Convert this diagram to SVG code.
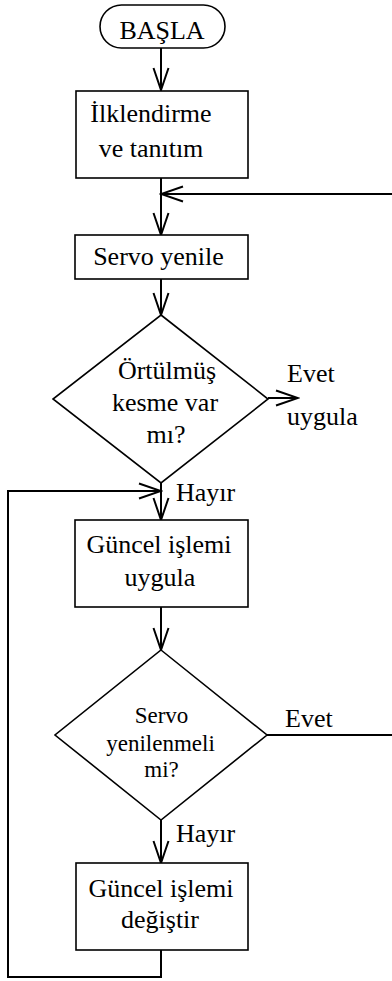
<svg xmlns="http://www.w3.org/2000/svg" width="392" height="981" viewBox="0 0 392 981">
<style>
.s{fill:#fff;stroke:#000;stroke-width:1.6}
.c{fill:none;stroke:#000;stroke-width:2}
text{font-family:"Liberation Serif","Times New Roman",serif;font-size:26px;fill:#000}
.m{text-anchor:middle}
.d2{font-size:23px}
</style>
<defs>
<marker id="a" viewBox="-24 -10 26 20" markerWidth="26" markerHeight="20" refX="0" refY="0" markerUnits="userSpaceOnUse" orient="auto">
<path d="M-22,-7.5 L0,0 L-22,7.5" fill="none" stroke="#000" stroke-width="2"/>
</marker>
</defs>
<rect width="392" height="981" fill="#fff"/>
<g id="connectors">
<path class="c" d="M161,48 V90" marker-end="url(#a)"/>
<path class="c" d="M161,178 V235" marker-end="url(#a)"/>
<path class="c" d="M395,194 H161"  marker-end="url(#a)"/>
<path class="c" d="M161,279 V315" marker-end="url(#a)"/>
<path class="c" d="M268,398 H298" marker-end="url(#a)"/>
<path class="c" d="M161,483 V520" marker-end="url(#a)"/>
<path class="c" d="M161,607 V650" marker-end="url(#a)"/>
<path class="c" d="M267,735 H395"/>
<path class="c" d="M161,820 V863" marker-end="url(#a)"/>
<path class="c" d="M161,950 V977 H8 V491 H161" marker-end="url(#a)"/>
</g>
<g id="start">
<rect class="s" x="100" y="5" width="125" height="43" rx="21.5"/>
<text class="m" x="162" y="39">BAŞLA</text>
</g>
<g id="init">
<rect class="s" x="76" y="91" width="172" height="87"/>
<text class="m" x="151" y="122">İlklendirme</text>
<text class="m" x="151" y="157">ve tanıtım</text>
</g>
<g id="servo">
<rect class="s" x="75" y="235" width="173" height="44"/>
<text class="m" x="158.5" y="265">Servo yenile</text>
</g>
<g id="dec1">
<polygon class="s" points="161,315 268,399 161,483 53,399"/>
<text class="m" x="167" y="379">Örtülmüş</text>
<text class="m" x="165" y="411">kesme var</text>
<text class="m" x="166" y="443">mı?</text>
</g>
<g id="evet1">
<text x="287" y="382">Evet</text>
<text x="287" y="425">uygula</text>
</g>
<text id="hayir1" x="176" y="501">Hayır</text>
<g id="apply">
<rect class="s" x="75" y="520" width="173" height="87"/>
<text class="m" x="159" y="553">Güncel işlemi</text>
<text class="m" x="160" y="586">uygula</text>
</g>
<g id="dec2">
<polygon class="s" points="161,650 267,735 161,820 55,735"/>
<text class="m d2" x="161.5" y="723">Servo</text>
<text class="m d2" x="160.5" y="751">yenilenmeli</text>
<text class="m d2" x="161.5" y="777">mi?</text>
</g>
<text id="evet2" x="285" y="727">Evet</text>
<text id="hayir2" x="176" y="842">Hayır</text>
<g id="change">
<rect class="s" x="76" y="863" width="172" height="87"/>
<text class="m" x="161" y="897">Güncel işlemi</text>
<text class="m" x="160" y="928">değiştir</text>
</g>
</svg>
